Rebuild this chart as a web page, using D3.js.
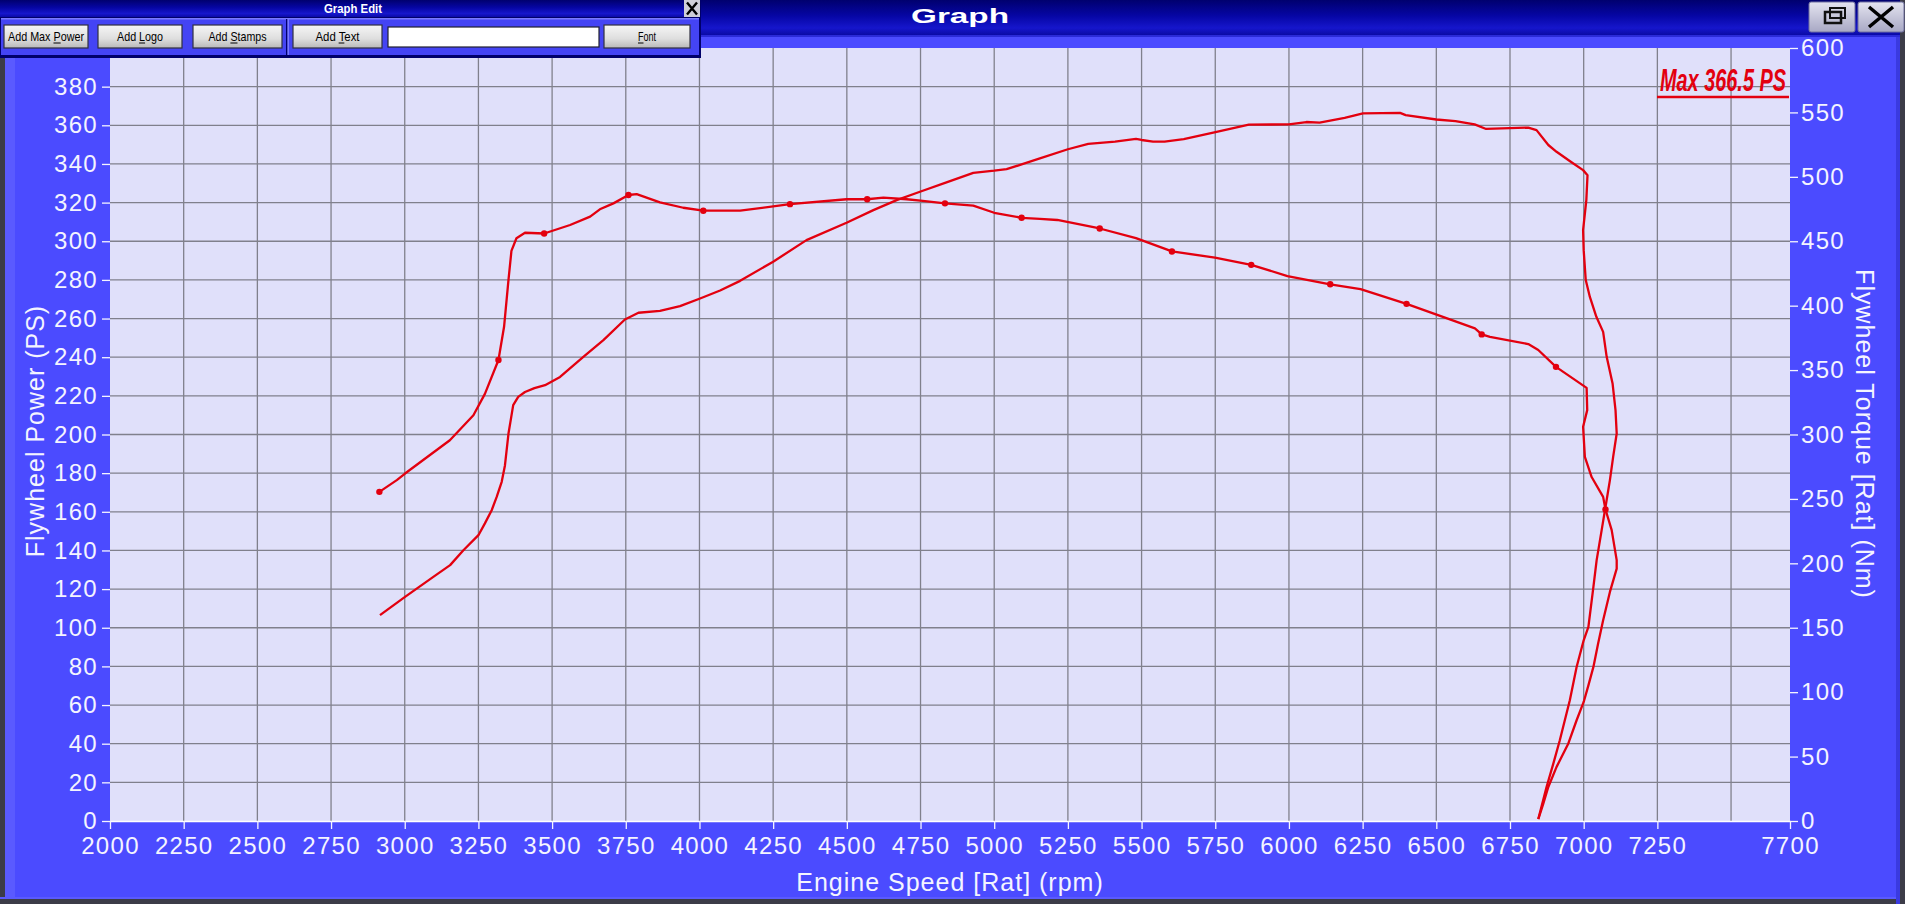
<!DOCTYPE html>
<html>
<head>
<meta charset="utf-8">
<script src="https://cdn.jsdelivr.net/npm/d3@7"></script>
<style>
  html,body{margin:0;padding:0;overflow:hidden;background:#4b4bff;}
  svg{display:block;}
</style>
</head>
<body>
<svg id="chart" width="1905" height="904"></svg>
<script>
// ---------- data ----------
const rpmTicks = [2000,2250,2500,2750,3000,3250,3500,3750,4000,4250,4500,4750,5000,5250,5500,5750,6000,6250,6500,6750,7000,7250,7700];
const rpmGrid = [2250,2500,2750,3000,3250,3500,3750,4000,4250,4500,4750,5000,5250,5500,5750,6000,6250,6500,6750,7000,7250,7500];
const powerTicks = [0,20,40,60,80,100,120,140,160,180,200,220,240,260,280,300,320,340,360,380];
const torqueTicks = [0,50,100,150,200,250,300,350,400,450,500,550,600];

const powerRpm = [2916,3001,3097,3154,3199,3250,3272,3295,3312,3329,3340,3352,3368,3385,3408,3440,3476,3527,3606,3674,3747,3793,3866,3934,4002,4070,4138,4250,4363,4499,4590,4669,4748,4838,4929,5000,5042,5098,5155,5250,5319,5410,5481,5500,5539,5578,5643,5747,5864,6000,6059,6104,6189,6251,6377,6396,6500,6565,6630,6669,6749,6812,6840,6880,6908,6955,6998,7013,7009,6998,7000,7007,7021,7043,7066,7078,7098,7108,7112,7100,7089,7074,7061,7044,7033,7016,7000,6976,6953,6919,6897,6874,6846];
const powerPs = [106.5,116,126.3,132.4,140.1,147.9,154,160.8,167.7,175.5,184,200.5,215.2,219.5,222,224,225.5,229.8,240.2,248.8,259.5,263,264,266.4,270.4,274.5,279.5,289.4,300.6,309.6,316.1,321.3,325.6,330.5,335.4,336.5,337.3,340,342.9,347.6,350.4,351.6,353,352.4,351.6,351.6,352.8,356.4,360.3,360.5,361.7,361.4,363.8,366.2,366.4,365.3,363,362.2,360.5,358.1,358.5,358.8,357.5,349.8,346.3,341.3,336.8,334.2,321.3,305.8,295.4,279.9,271.2,260.9,253.1,240.2,226.4,212.6,200.5,188.4,176.4,162.5,150.5,135,121.1,100.4,93.5,79.7,62.5,41.8,29.7,17.6,1];

const torqueRpm = [2914,2973,3001,3153,3233,3272,3318,3337,3352,3362,3379,3408,3473,3561,3629,3662,3708,3759,3787,3866,3945,4013,4138,4307,4499,4569,4624,4703,4750,4833,4929,5000,5093,5155,5214,5358,5481,5603,5749,5872,5995,6140,6243,6399,6546,6631,6654,6682,6812,6846,6906,7010,7012,6998,7004,7027,7066,7074,7095,7112,7112,7089,7066,7049,7033,7016,7000,6976,6948,6908,6880,6863,6846];
const torqueNm = [255.5,264.6,269.7,295.5,315,331.5,357.8,383.6,420,442.5,452.3,456.6,456,462.6,469.1,474.8,479.4,485.9,486.6,480.2,476,473.7,473.7,478.8,482.6,482.6,483.8,482.6,481.5,479.4,477.6,472.1,468.2,467.3,466.5,459.9,452.4,442.1,437.3,431.7,423,416.6,412.8,401.4,389.3,382.4,377.7,375.8,370.2,365.6,352.5,336.2,318.9,306,282.6,267,251.6,241.8,225.8,202.5,195.9,177.8,155.9,137.7,119.6,105.3,92.4,78.2,60.2,42,26.4,13.5,1.5];

const torqueMarkRpm = [2914,3318,3473,3759,4013,4307,4569,4833,5093,5358,5603,5872,6140,6399,6654,6906,7074];
const torqueMarkNm = [255.5,357.8,456,485.9,473.7,478.8,482.6,479.4,468.2,459.9,442.1,431.7,416.6,401.4,377.7,352.5,241.8];

const maxPower = 366.5;
const editButtons = ["Add Max Power","Add Logo","Add Stamps","Add Text","Font"];
const editUnderlineIdx = [8,4,4,4,0];

// ---------- layout ----------
const W = 1905, H = 904;
const plot = {left:110, right:1790, top:48, bottom:821};
const RED = "#e3000f";
const BLUE = "#4b4bff";
const TXT = "#f4f4ff";

const svg = d3.select("#chart");
const defs = svg.append("defs");

const g1 = defs.append("linearGradient").attr("id","titleGrad").attr("x1",0).attr("y1",0).attr("x2",0).attr("y2",1);
g1.append("stop").attr("offset","0%").attr("stop-color","#00006e");
g1.append("stop").attr("offset","45%").attr("stop-color","#0606a4");
g1.append("stop").attr("offset","80%").attr("stop-color","#1616cc");
g1.append("stop").attr("offset","100%").attr("stop-color","#0a0aa6");

const g2 = defs.append("linearGradient").attr("id","btnGrad").attr("x1",0).attr("y1",0).attr("x2",0).attr("y2",1);
g2.append("stop").attr("offset","0%").attr("stop-color","#f6f6f6");
g2.append("stop").attr("offset","60%").attr("stop-color","#dedede");
g2.append("stop").attr("offset","100%").attr("stop-color","#b8b8b8");

const g3 = defs.append("linearGradient").attr("id","winBtnGrad").attr("x1",0).attr("y1",0).attr("x2",0).attr("y2",1);
g3.append("stop").attr("offset","0%").attr("stop-color","#e4e4f0");
g3.append("stop").attr("offset","100%").attr("stop-color","#a8a8c4");

// window background and borders
svg.append("rect").attr("x",0).attr("y",0).attr("width",W).attr("height",H).attr("fill",BLUE);
svg.append("rect").attr("x",5).attr("y",37).attr("width",10).attr("height",H-37).attr("fill","#5a5aff");
svg.append("rect").attr("x",0).attr("y",0).attr("width",5).attr("height",H).attr("fill","#3c3c48");
svg.append("rect").attr("x",0).attr("y",897).attr("width",W).attr("height",2).attr("fill","#5a5aff");
svg.append("rect").attr("x",0).attr("y",899).attr("width",W).attr("height",5).attr("fill","#3c3c48");
svg.append("rect").attr("x",1896).attr("y",0).attr("width",4).attr("height",H).attr("fill","#3a3ae0");
svg.append("rect").attr("x",1900).attr("y",0).attr("width",5).attr("height",H).attr("fill","#3c3c48");

// title bar
svg.append("rect").attr("x",0).attr("y",0).attr("width",1900).attr("height",35).attr("fill","url(#titleGrad)");
svg.append("rect").attr("x",0).attr("y",35).attr("width",1900).attr("height",2).attr("fill","#2a2ad8");
svg.append("text").attr("x",960).attr("y",23).attr("text-anchor","middle")
  .attr("font-family","Liberation Sans, Arial, sans-serif").attr("font-weight","bold").attr("font-size",20)
  .attr("fill","#ffffff").attr("textLength",98).attr("lengthAdjust","spacingAndGlyphs").text("Graph");

// window buttons
svg.append("rect").attr("x",1809).attr("y",2).attr("width",46).attr("height",30).attr("rx",2)
  .attr("fill","url(#winBtnGrad)").attr("stroke","#7070a0").attr("stroke-width",1);
svg.append("rect").attr("x",1825).attr("y",12).attr("width",16).attr("height",11).attr("fill","none").attr("stroke","#111").attr("stroke-width",2.5);
svg.append("rect").attr("x",1830).attr("y",8).attr("width",15).attr("height",10).attr("fill","none").attr("stroke","#111").attr("stroke-width",2);
svg.append("rect").attr("x",1858).attr("y",2).attr("width",46).attr("height",30).attr("rx",2)
  .attr("fill","url(#winBtnGrad)").attr("stroke","#7070a0").attr("stroke-width",1);
svg.append("path").attr("d","M1869,7 L1893,27 M1893,7 L1869,27").attr("stroke","#000").attr("stroke-width",3.5);

// ---------- scales ----------
const x = d3.scaleLinear().domain([2000,7700]).range([plot.left, plot.right]);
const yP = d3.scaleLinear().domain([0,400]).range([plot.bottom, plot.top]);
const yT = d3.scaleLinear().domain([0,600]).range([plot.bottom, plot.top]);

// plot background
svg.append("rect").attr("x",plot.left).attr("y",plot.top)
  .attr("width",plot.right-plot.left).attr("height",plot.bottom-plot.top).attr("fill","#e0e0fa");

// grid
const grid = svg.append("g").attr("stroke","#80808c").attr("stroke-width",1.3);
grid.selectAll("line.v").data(rpmGrid).join("line").attr("class","v")
  .attr("x1",d=>x(d)).attr("x2",d=>x(d)).attr("y1",plot.top).attr("y2",plot.bottom);
grid.selectAll("line.h").data(powerTicks.filter(d=>d>0)).join("line").attr("class","h")
  .attr("x1",plot.left).attr("x2",plot.right).attr("y1",d=>yP(d)).attr("y2",d=>yP(d));

// axes
function styleAxis(sel){
  sel.selectAll("path").attr("stroke","#f4f4ff").attr("stroke-width",1.5);
  sel.selectAll("line").attr("stroke","#f4f4ff").attr("stroke-width",1.3);
  sel.selectAll("text").attr("fill",TXT).attr("font-family","Liberation Sans, Arial, sans-serif")
    .attr("font-size",24).attr("letter-spacing","1.3px");
}
const ax = svg.append("g").attr("transform",`translate(0,${plot.bottom})`)
  .call(d3.axisBottom(x).tickValues(rpmTicks).tickFormat(d3.format("d")).tickSize(8).tickPadding(8).tickSizeOuter(0));
styleAxis(ax);
ax.select("path").attr("stroke","#ffffff");

const ayL = svg.append("g").attr("transform",`translate(${plot.left},0)`)
  .call(d3.axisLeft(yP).tickValues(powerTicks).tickFormat(d3.format("d")).tickSize(8).tickPadding(4).tickSizeOuter(0));
styleAxis(ayL);
ayL.select("path").attr("stroke","none");

const ayR = svg.append("g").attr("transform",`translate(${plot.right},0)`)
  .call(d3.axisRight(yT).tickValues(torqueTicks).tickFormat(d3.format("d")).tickSize(8).tickPadding(3).tickSizeOuter(0));
styleAxis(ayR);
ayR.select("path").attr("stroke","none");

// axis titles
const titleFont = "Liberation Sans, Arial, sans-serif";
svg.append("text").attr("x",950).attr("y",891).attr("text-anchor","middle")
  .attr("font-family",titleFont).attr("font-size",25).attr("letter-spacing","1px").attr("fill",TXT)
  .text("Engine Speed [Rat] (rpm)");
svg.append("text").attr("transform","translate(44,431) rotate(-90)").attr("text-anchor","middle")
  .attr("font-family",titleFont).attr("font-size",25).attr("letter-spacing","1px").attr("fill",TXT)
  .text("Flywheel Power (PS)");
svg.append("text").attr("transform","translate(1856,434) rotate(90)").attr("text-anchor","middle")
  .attr("font-family",titleFont).attr("font-size",25).attr("letter-spacing","1px").attr("fill",TXT)
  .text("Flywheel Torque [Rat] (Nm)");

// ---------- curves ----------
const powerData = powerRpm.map((r,i)=>({r, v: powerPs[i]}));
const torqueData = torqueRpm.map((r,i)=>({r, v: torqueNm[i]}));
const markData = torqueMarkRpm.map((r,i)=>({r, v: torqueMarkNm[i]}));

const clip = defs.append("clipPath").attr("id","plotClip");
clip.append("rect").attr("x",plot.left).attr("y",plot.top).attr("width",plot.right-plot.left).attr("height",plot.bottom-plot.top+1);

const curves = svg.append("g").attr("clip-path","url(#plotClip)");
curves.append("path").datum(powerData)
  .attr("d", d3.line().x(d=>x(d.r)).y(d=>yP(d.v)))
  .attr("fill","none").attr("stroke",RED).attr("stroke-width",2.3).attr("stroke-linejoin","round");
curves.append("path").datum(torqueData)
  .attr("d", d3.line().x(d=>x(d.r)).y(d=>yT(d.v)))
  .attr("fill","none").attr("stroke",RED).attr("stroke-width",2.3).attr("stroke-linejoin","round");
curves.selectAll("circle").data(markData).join("circle")
  .attr("cx",d=>x(d.r)).attr("cy",d=>yT(d.v)).attr("r",3.2).attr("fill",RED);

// max label
svg.append("text").attr("x",1660).attr("y",91)
  .attr("font-family","Liberation Sans Narrow, Liberation Sans, Arial, sans-serif")
  .attr("font-weight","bold").attr("font-style","italic").attr("font-size",31).attr("fill",RED)
  .attr("textLength",126).attr("lengthAdjust","spacingAndGlyphs")
  .text(`Max ${maxPower} PS`);
svg.append("line").attr("x1",1657).attr("x2",1789).attr("y1",97).attr("y2",97)
  .attr("stroke",RED).attr("stroke-width",2.5);

// ---------- Graph Edit panel ----------
const pnl = svg.append("g");
pnl.append("rect").attr("x",0).attr("y",0).attr("width",701).attr("height",58).attr("fill","#00006a");
pnl.append("rect").attr("x",1).attr("y",18).attr("width",698).attr("height",37).attr("fill","#4444f4");
pnl.append("rect").attr("x",1).attr("y",18).attr("width",698).attr("height",1.5).attr("fill","#7a7aff");
pnl.append("rect").attr("x",0).attr("y",0).attr("width",684).attr("height",17).attr("fill","url(#titleGrad)");
pnl.append("text").attr("x",353).attr("y",13).attr("text-anchor","middle")
  .attr("font-family","Liberation Sans, Arial, sans-serif").attr("font-weight","bold").attr("font-size",12.5)
  .attr("fill","#fff").attr("textLength",58).attr("lengthAdjust","spacingAndGlyphs").text("Graph Edit");
pnl.append("rect").attr("x",684).attr("y",0).attr("width",16).attr("height",17).attr("fill","#cfcfd8");
pnl.append("path").attr("d","M687,2.5 L697,14.5 M697,2.5 L687,14.5").attr("stroke","#000").attr("stroke-width",2.4);
// separator
pnl.append("rect").attr("x",286).attr("y",19).attr("width",1.5).attr("height",36).attr("fill","#00006a");
pnl.append("rect").attr("x",287.5).attr("y",19).attr("width",1.5).attr("height",36).attr("fill","#7a7aff");

const btnX = [4,98,193,293,604];
const btnW = [84,84,89,89,86];
const btnTL = [76,46,58,44,18];
editButtons.forEach((label,i)=>{
  const bx = btnX[i], bw = btnW[i];
  pnl.append("rect").attr("x",bx).attr("y",25).attr("width",bw).attr("height",23)
    .attr("fill","url(#btnGrad)").attr("stroke","#303040").attr("stroke-width",1.2);
  const t = pnl.append("text").attr("x",bx+bw/2).attr("y",41).attr("text-anchor","middle")
    .attr("font-family","Liberation Sans Narrow, Liberation Sans, Arial, sans-serif").attr("font-size",13)
    .attr("fill","#000").attr("textLength",btnTL[i]).attr("lengthAdjust","spacingAndGlyphs")
    .text(label);
  // underline the accelerator letter
  const k = editUnderlineIdx[i];
  let ux1, ux2;
  try {
    ux1 = t.node().getStartPositionOfChar(k).x;
    ux2 = t.node().getEndPositionOfChar(k).x;
  } catch(e) {
    const x0 = bx + bw/2 - btnTL[i]/2;
    ux1 = x0 + btnTL[i]*k/label.length; ux2 = ux1 + btnTL[i]/label.length;
  }
  pnl.append("line").attr("x1",ux1).attr("x2",ux2).attr("y1",43).attr("y2",43)
    .attr("stroke","#000").attr("stroke-width",1);
});
pnl.append("rect").attr("x",388).attr("y",27).attr("width",211).attr("height",20)
  .attr("fill","#ffffff").attr("stroke","#202030").attr("stroke-width",1.2);
</script>
</body>
</html>
